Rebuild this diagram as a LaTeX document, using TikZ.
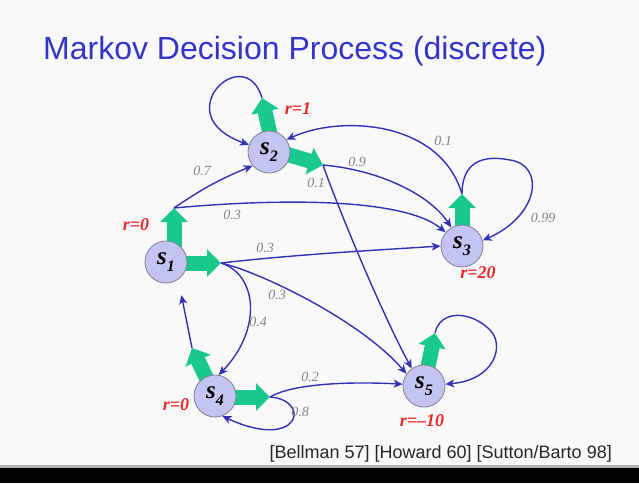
\documentclass[tikz,border=0pt]{standalone}
\usepackage{fontspec}
\setmainfont{Liberation Serif}
\newfontfamily\titlefont{Liberation Sans}
\usetikzlibrary{arrows.meta,backgrounds,calc}
\definecolor{titleblue}{RGB}{52,52,200}
\definecolor{edgeblue}{RGB}{50,50,180}
\definecolor{actgreen}{RGB}{25,200,140}
\definecolor{statefill}{RGB}{196,196,242}
\definecolor{stateborder}{RGB}{128,128,140}
\definecolor{rewardred}{RGB}{235,40,40}
\definecolor{probgray}{RGB}{130,130,130}
\definecolor{bgcol}{RGB}{249,249,249}
\newcommand{\stname}[1]{{\fontsize{25}{25}\selectfont\bfseries\itshape s}\raisebox{-7pt}{\fontsize{16}{16}\selectfont\bfseries\itshape #1}}
\begin{document}
\begin{tikzpicture}[x=1pt,y=-1pt,
  state/.style={circle,draw=stateborder,fill=statefill,line width=0.8pt,minimum size=42pt,inner sep=0pt},
  act/.style={draw=actgreen,line width=15pt,-{Triangle[width=27pt,length=14pt]}},
  trans/.style={draw=edgeblue,line width=1.4pt,-{Stealth[length=9pt,width=8pt,inset=2.5pt]}},
  prob/.style={font=\fontsize{14}{14}\selectfont\itshape,text=probgray,inner sep=0pt},
  rew/.style={font=\fontsize{18}{18}\selectfont\bfseries\itshape,text=rewardred,inner sep=0pt}]
\useasboundingbox (0,0) rectangle (639,483);

% title and citation
\node[anchor=base west,font=\titlefont\fontsize{32}{32}\selectfont,text=titleblue,inner sep=0pt] (title) at (43,59) {Markov Decision Process (discrete)};
\node[anchor=base east,font=\titlefont\fontsize{18}{18}\selectfont,text=black!85,inner sep=0pt] (cite) at (612,458) {[Bellman 57] [Howard 60] [Sutton/Barto 98]};

% states
\node[state] (s1) at (166,262) {\stname{1}};
\node[state] (s2) at (269,152) {\stname{2}};
\node[state] (s3) at (462,246) {\stname{3}};
\node[state] (s4) at (215,396) {\stname{4}};
\node[state] (s5) at (424,386) {\stname{5}};

% action arrow tips
\coordinate (t1u) at (174,208);
\coordinate (t1r) at (221,263);
\coordinate (t2u) at (262,98);
\coordinate (t2r) at (323,165);
\coordinate (t3u) at (462,194);
\coordinate (t4u) at (192,348);
\coordinate (t4r) at (270,397);
\coordinate (t5u) at (435,333);

\begin{pgfonlayer}{background}
\fill[bgcol] (0,0) rectangle (639,483);
\fill[gray!60] (0,465) rectangle (639,468);
\fill[black] (0,468) rectangle (639,483);
\draw[act] ([xshift=8pt]s1.center) -- (t1u);
\draw[act] ([yshift=-1pt]s1.center) -- (t1r);
\draw[act] ([xshift=5pt]s2.center) -- (t2u);
\draw[act] ([yshift=3pt]s2.center) -- (t2r);
\draw[act] (s3.center) -- (t3u);
\draw[act] (s4.center) -- (t4u);
\draw[act] ([yshift=-1pt]s4.center) -- (t4r);
\draw[act] (s5.center) -- (t5u);
\end{pgfonlayer}

% transitions
\draw[trans] (t2u) .. controls (245,40) and (165,115) .. (s2.160);
\draw[trans] (t1u) to[bend left=6] (s2.220);
\draw[trans] (t1u) .. controls (260,200) and (400,195) .. (s3.140);
\draw[trans] (t1r) .. controls (300,254) and (380,250) .. (s3.180);
\draw[trans] (t1r) .. controls (260,272) and (360,320) .. (s5.145);
\draw[trans] (t1r) .. controls (258,275) and (262,330) .. (s4.80);
\draw[trans,shorten >=16pt] (t4u) -- (s1.-55);
\draw[trans] (t4r) .. controls (290,385) and (340,381) .. (s5.175);
\draw[trans] (t4r) .. controls (312,400) and (300,452) .. (s4.-70);
\draw[trans] (t2r) .. controls (380,170) and (430,195) .. (s3.120);
\draw[trans] (t2r) .. controls (335,200) and (380,310) .. (s5.125);
\draw[trans] (t3u) .. controls (440,120) and (340,115) .. (s2.35);
\draw[trans] (t3u) .. controls (462,160) and (485,155) .. (510,160) .. controls (545,165) and (540,215) .. (s3.15);
\draw[trans] (t5u) .. controls (440,310) and (470,310) .. (490,330) .. controls (505,345) and (495,380) .. (s5.5);

% probabilities
\node[prob] (p1) at (202,171) {0.7};
\node[prob] (p2) at (232,215) {0.3};
\node[prob] (p3) at (316,183) {0.1};
\node[prob] (p4) at (357,162) {0.9};
\node[prob] (p5) at (443,141) {0.1};
\node[prob] (p6) at (543,218) {0.99};
\node[prob] (p7) at (265,248) {0.3};
\node[prob] (p8) at (277,295) {0.3};
\node[prob] (p9) at (258,322) {0.4};
\node[prob] (p10) at (310,377) {0.2};
\node[prob] (p11) at (300,412) {0.8};

% rewards
\node[rew] (r2) at (298,109) {r=1};
\node[rew] (r1) at (136,225) {r=0};
\node[rew] (r3) at (478,273) {r=20};
\node[rew] (r4) at (176,405) {r=0};
\node[rew] (r5) at (422,421) {r=–10};
\end{tikzpicture}
\end{document}
